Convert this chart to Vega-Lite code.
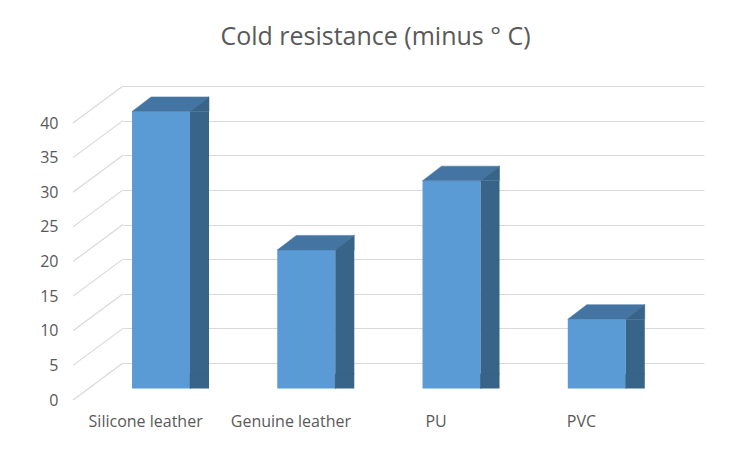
{
  "$schema": "https://vega.github.io/schema/vega-lite/v6.json",
  "width": 581,
  "height": 277,
  "autosize": {"type": "none"},
  "padding": {"left": 123, "top": 86, "right": 48, "bottom": 89},
  "background": "white",
  "title": {
    "text": "Cold resistance (minus ° C)",
    "font": "Open Sans",
    "fontSize": 25,
    "fontWeight": "normal",
    "color": "#595959",
    "anchor": "middle",
    "baseline": "alphabetic",
    "offset": 14,
    "dx": -38
  },
  "datasets": {
    "materials": [
      {"material": "Silicone leather", "cold": 40},
      {"material": "Genuine leather", "cold": 20},
      {"material": "PU", "cold": 30},
      {"material": "PVC", "cold": 10}
    ],
    "ticks": [
      {"tick": 0}, {"tick": 5}, {"tick": 10}, {"tick": 15}, {"tick": 20},
      {"tick": 25}, {"tick": 30}, {"tick": 35}, {"tick": 40}
    ]
  },
  "encoding": {
    "x": {
      "field": "material",
      "type": "nominal",
      "scale": {"domain": ["Silicone leather", "Genuine leather", "PU", "PVC"], "paddingInner": 0, "paddingOuter": 0},
      "axis": {
        "title": null, "orient": "bottom", "offset": 37, "domain": false, "ticks": false,
        "labelPadding": 13, "labelOffset": -50, "labelAngle": 0,
        "labelFont": "Open Sans", "labelFontSize": 16, "labelColor": "#595959"
      }
    },
    "y": {
      "field": "cold",
      "type": "quantitative",
      "scale": {"domain": [0, 40], "nice": false},
      "axis": {
        "title": null, "values": [0, 5, 10, 15, 20, 25, 30, 35, 40],
        "domain": false, "ticks": false, "grid": true, "gridColor": "#d9d9d9", "gridWidth": 1,
        "labelPadding": 65, "labelOffset": 37,
        "labelFont": "Open Sans", "labelFontSize": 16, "labelColor": "#595959"
      }
    }
  },
  "layer": [
    {
      "data": {"name": "ticks"},
      "mark": {"type": "point", "shape": "M0,0L-1,0.74", "size": 10000, "filled": false, "stroke": "#d9d9d9", "strokeWidth": 1.2, "opacity": 1},
      "encoding": {
        "x": {"datum": "Silicone leather", "type": "nominal", "bandPosition": 0},
        "y": {"field": "tick", "type": "quantitative"}
      }
    },
    {
      "data": {"name": "materials"},
      "layer": [
        {"mark": {"type": "bar", "width": 58, "xOffset": -34.6, "yOffset": 25.5, "y2Offset": 25.5, "color": "#5b9bd5"}},
        {"mark": {"type": "bar", "width": 19, "xOffset": 3.9, "yOffset": 25.5, "y2Offset": 10.9, "color": "#386489"}},
        {"mark": {"type": "point", "shape": "M-1.272,0L-0.112,0L0.268,-0.292L-0.892,-0.292Z", "size": 10000, "filled": true, "opacity": 1, "fill": "#4474a2", "stroke": "#4474a2", "strokeWidth": 0.5, "yOffset": 25.5}},
        {"mark": {"type": "point", "shape": "M-0.112,0L0.268,-0.292L0.268,0Z", "size": 10000, "filled": true, "opacity": 1, "fill": "#386489", "stroke": "#386489", "strokeWidth": 0.5, "yOffset": 25.5}},
        {
          "mark": {"type": "point", "shape": "M-0.112,-0.292L-0.112,0L0.268,-0.292Z", "size": 10000, "filled": true, "opacity": 1, "fill": "#386489", "stroke": "#386489", "strokeWidth": 0.5, "yOffset": 25.5},
          "encoding": {"y": {"datum": 0, "type": "quantitative"}}
        }
      ]
    }
  ],
  "config": {"view": {"stroke": null}}
}
